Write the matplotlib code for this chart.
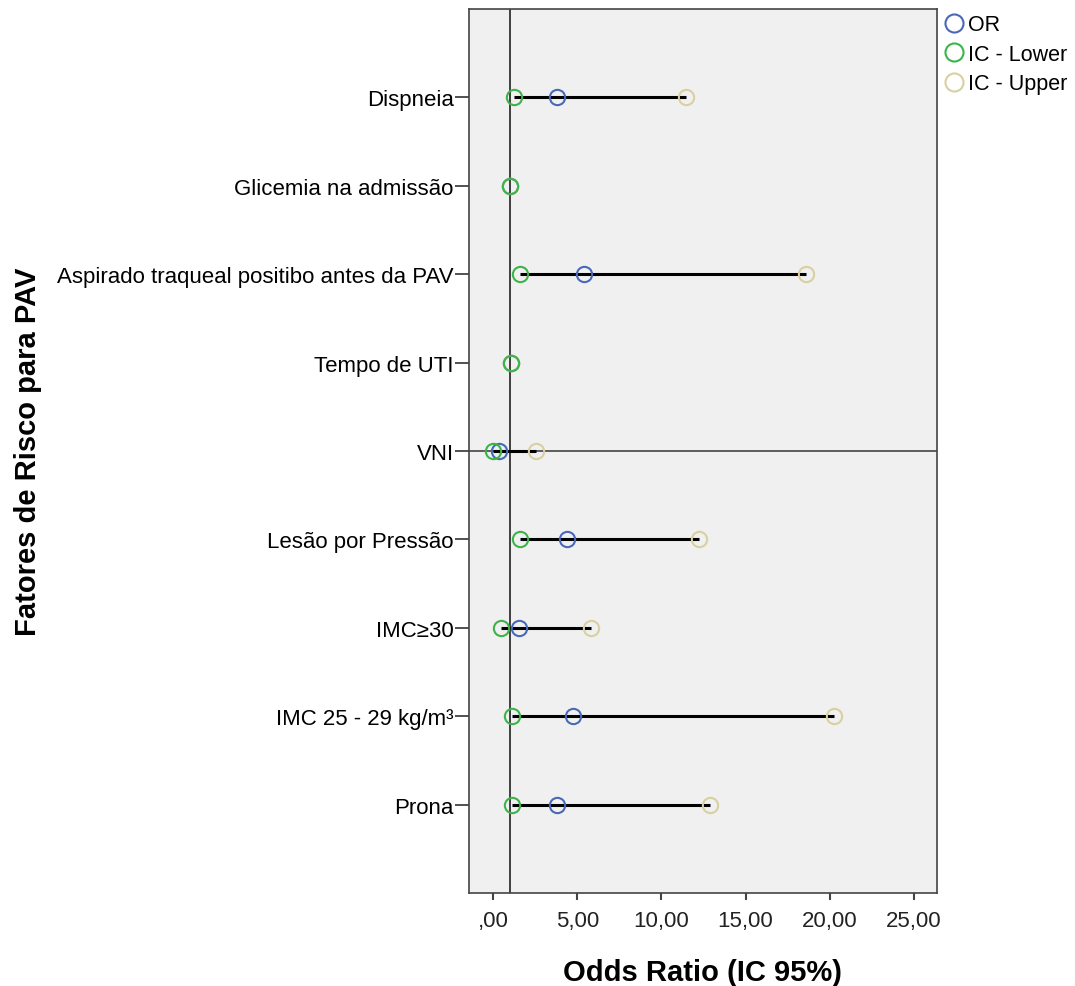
import numpy as np
import matplotlib
matplotlib.use('Agg')
import matplotlib.pyplot as plt
from matplotlib.lines import Line2D
from matplotlib.ticker import FuncFormatter

plt.rcParams['font.family'] = ['Liberation Sans', 'DejaVu Sans']

# fatores de risco (de cima para baixo)
fatores = ['Dispneia', 'Glicemia na admissão', 'Aspirado traqueal positibo antes da PAV',
           'Tempo de UTI', 'VNI', 'Lesão por Pressão', 'IMC\u226530',
           'IMC 25 - 29 kg/m³', 'Prona']
odds_ratio = [3.82, 1.00, 5.42, 1.06, 0.37, 4.39, 1.56, 4.75, 3.80]
ic_lower = [1.27, 0.99, 1.60, 1.04, 0.02, 1.60, 0.46, 1.13, 1.13]
ic_upper = [11.46, 1.01, 18.59, 1.08, 2.55, 12.23, 5.80, 20.25, 12.89]
linha_ref = 'VNI'

cor_or = '#4a68b8'
cor_low = '#3cb44a'
cor_up = '#d8d0a0'

fig = plt.figure(figsize=(10.75, 9.87), dpi=100)
ax = fig.add_axes([0.4363, 0.0942, 0.4353, 0.8957])
ax.set_facecolor('#f0f0f0')

pos = np.arange(1, len(fatores) + 1)

# linhas de referencia
ax.axvline(1, color='#222222', lw=1.2, zorder=1)
ax.axhline(pos[fatores.index(linha_ref)], color='#444444', lw=1.2, zorder=1)

# intervalos
ax.hlines(pos, ic_lower, ic_upper, color='black', lw=2.2, zorder=2)

ms = 11
ax.plot(odds_ratio, pos, 'o', ms=ms, mfc='none', mec=cor_or, mew=1.5, zorder=3)
ax.plot(ic_lower, pos, 'o', ms=ms, mfc='none', mec=cor_low, mew=1.5, zorder=4)
ax.plot(ic_upper, pos, 'o', ms=ms, mfc='none', mec=cor_up, mew=1.5, zorder=3)

ax.set_xlim(-1.43, 26.37)
ax.set_ylim(10, 0)
ax.set_yticks(pos)
ax.set_yticklabels(fatores, fontsize=16)
ax.set_xticks([0, 5, 10, 15, 20, 25])


def virgula(v, p):
    s = f'{v:.2f}'.replace('.', ',')
    if s.startswith('0'):
        s = s[1:]
    return s


ax.xaxis.set_major_formatter(FuncFormatter(virgula))
ax.tick_params(axis='y', length=10, width=1.2, color='#333333', pad=1)
ax.tick_params(axis='x', length=5, width=1.5, color='#444444', labelsize=16, pad=7,
               labelcolor='#222222')
for s in ax.spines.values():
    s.set_color('#444444')
    s.set_linewidth(1.2)

ax.set_xlabel('Odds Ratio (IC 95%)', fontsize=21, fontweight='bold', labelpad=20)
fig.text(0.026, 0.542, 'Fatores de Risco para PAV', rotation=90, fontsize=21,
         fontweight='bold', va='center', ha='center')

handles = [Line2D([], [], marker='o', ls='none', ms=13, mfc='none', mec=c, mew=1.5)
           for c in (cor_or, cor_low, cor_up)]
fig.legend(handles, ['OR', 'IC - Lower', 'IC - Upper'], loc='upper left',
           bbox_to_anchor=(0.86, 1.0), frameon=False, fontsize=15.5,
           handletextpad=0.0, labelspacing=0.4, borderaxespad=0.3, handlelength=1.3)

fig.savefig('out.png', dpi=100)
